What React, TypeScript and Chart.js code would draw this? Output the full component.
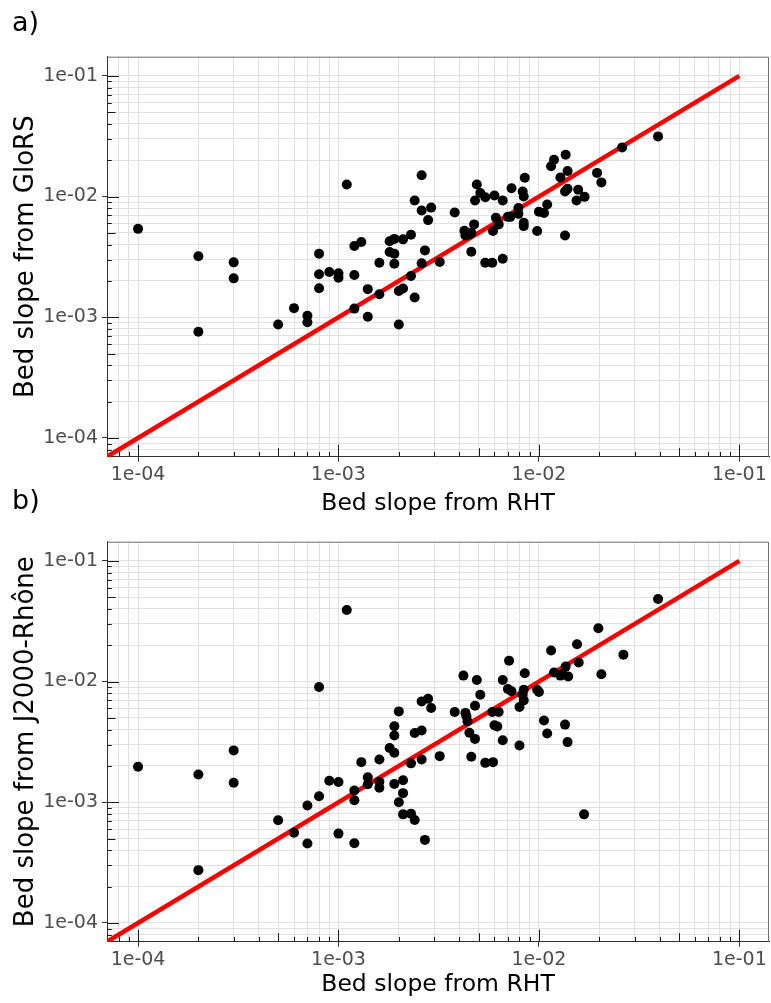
import { useEffect, useRef } from 'react';
import { Chart, registerables } from 'chart.js';

Chart.register(...registerables);

// ---------- data ----------
const rhtA = [
  1e-4, 2e-4, 2e-4, 3e-4, 3e-4, 5e-4, 6e-4, 7e-4, 7e-4, 8e-4,
  8e-4, 8e-4, 9e-4, 1e-3, 1e-3, 1.1e-3, 1.2e-3, 1.3e-3, 1.2e-3, 1.2e-3,
  1.4e-3, 1.4e-3, 1.6e-3, 1.6e-3, 1.8e-3, 1.9e-3, 2.1e-3, 1.8e-3, 1.9e-3, 1.9e-3,
  2.3e-3, 2.4e-3, 2.6e-3, 2.9e-3, 2.8e-3, 2.7e-3, 2.6e-3, 2.3e-3, 2.0e-3, 2.1e-3,
  2.4e-3, 2.0e-3, 2.6e-3, 3.2e-3, 3.8e-3, 4.25e-3, 4.3e-3, 4.5e-3, 4.6e-3, 4.75e-3,
  4.6e-3, 4.9e-3, 4.8e-3, 5.1e-3, 5.4e-3, 6.0e-3, 6.6e-3, 7.3e-3, 8.5e-3, 8.3e-3,
  8.4e-3, 6.1e-3, 6.3e-3, 5.9e-3, 7.0e-3, 7.2e-3, 7.9e-3, 7.9e-3, 8.4e-3, 8.4e-3,
  5.4e-3, 5.85e-3, 6.6e-3, 9.8e-3, 1.0e-2, 1.06e-2, 1.1e-2, 1.15e-2, 1.19e-2, 1.36e-2,
  1.28e-2, 1.39e-2, 1.35e-2, 1.39e-2, 1.35e-2, 1.57e-2, 1.54e-2, 1.69e-2, 1.95e-2, 2.05e-2,
  2.6e-2, 3.93e-2,
];
const glorsA = [
  5.4e-3, 3.2e-3, 7.6e-4, 2.85e-3, 2.1e-3, 8.7e-4, 1.19e-3, 1.03e-3, 9.1e-4, 3.36e-3,
  2.27e-3, 1.74e-3, 2.37e-3, 2.31e-3, 2.13e-3, 1.26e-2, 3.89e-3, 4.2e-3, 2.24e-3, 1.18e-3,
  1.71e-3, 1.01e-3, 2.83e-3, 1.55e-3, 4.27e-3, 4.46e-3, 4.42e-3, 3.47e-3, 3.36e-3, 2.78e-3,
  4.82e-3, 9.27e-3, 7.66e-3, 8.1e-3, 6.38e-3, 3.58e-3, 2.8e-3, 2.2e-3, 1.65e-3, 1.73e-3,
  1.46e-3, 8.7e-4, 1.5e-2, 2.87e-3, 7.38e-3, 5.2e-3, 4.75e-3, 4.86e-3, 5.0e-3, 5.88e-3,
  3.49e-3, 1.26e-2, 9.27e-3, 1.07e-2, 9.88e-3, 1.02e-2, 9.27e-3, 1.17e-2, 1.43e-2, 1.1e-2,
  1.0e-2, 6.67e-3, 5.88e-3, 5.18e-3, 6.79e-3, 6.79e-3, 8.05e-3, 7.19e-3, 6.07e-3, 5.69e-3,
  2.83e-3, 2.83e-3, 3.05e-3, 5.18e-3, 7.47e-3, 7.32e-3, 8.59e-3, 1.78e-2, 2.02e-2, 2.22e-2,
  1.44e-2, 1.63e-2, 1.1e-2, 1.16e-2, 4.76e-3, 1.14e-2, 9.27e-3, 9.94e-3, 1.57e-2, 1.31e-2,
  2.55e-2, 3.15e-2,
];

const rhtB = [
  1e-4, 2e-4, 2e-4, 3e-4, 3e-4, 5e-4, 6e-4, 7e-4, 7e-4, 8e-4,
  8e-4, 9e-4, 1e-3, 1e-3, 1.1e-3, 1.2e-3, 1.2e-3, 1.2e-3, 1.3e-3, 1.4e-3,
  1.4e-3, 1.6e-3, 1.6e-3, 1.6e-3, 1.8e-3, 1.9e-3, 1.9e-3, 1.9e-3, 1.9e-3, 2.0e-3,
  2.1e-3, 2.1e-3, 2.0e-3, 2.1e-3, 2.3e-3, 2.4e-3, 2.7e-3, 2.3e-3, 2.4e-3, 2.6e-3,
  2.6e-3, 2.6e-3, 2.8e-3, 2.9e-3, 3.2e-3, 3.8e-3, 4.2e-3, 4.3e-3, 4.35e-3, 4.4e-3,
  4.5e-3, 4.8e-3, 4.6e-3, 4.8e-3, 4.9e-3, 5.1e-3, 5.4e-3, 5.9e-3, 5.85e-3, 6.3e-3,
  6.0e-3, 6.2e-3, 6.6e-3, 6.6e-3, 7.1e-3, 7.0e-3, 7.3e-3, 8.5e-3, 8.4e-3, 8.3e-3,
  8.4e-3, 8.0e-3, 8.0e-3, 9.8e-3, 1.0e-2, 1.06e-2, 1.1e-2, 1.15e-2, 1.19e-2, 1.28e-2,
  1.36e-2, 1.4e-2, 1.31e-2, 1.35e-2, 1.39e-2, 1.55e-2, 1.58e-2, 1.68e-2, 1.98e-2, 2.05e-2,
  2.64e-2, 3.93e-2,
];
const j2000B = [
  1.97e-3, 1.7e-3, 2.74e-4, 2.69e-3, 1.45e-3, 7.1e-4, 5.6e-4, 9.4e-4, 4.55e-4, 1.12e-3,
  9.0e-3, 1.51e-3, 1.47e-3, 5.5e-4, 3.92e-2, 1.25e-3, 1.04e-3, 4.57e-4, 2.15e-3, 1.61e-3,
  1.41e-3, 2.26e-3, 1.48e-3, 1.32e-3, 2.82e-3, 2.57e-3, 4.26e-3, 3.57e-3, 1.42e-3, 5.66e-3,
  1.52e-3, 1.19e-3, 1.0e-3, 7.94e-4, 8.05e-4, 7.13e-4, 4.88e-4, 2.1e-3, 3.75e-3, 3.93e-3,
  2.26e-3, 6.85e-3, 7.21e-3, 6.04e-3, 2.41e-3, 5.6e-3, 1.12e-2, 5.5e-3, 5.15e-3, 4.69e-3,
  3.76e-3, 3.35e-3, 2.38e-3, 6.31e-3, 1.03e-2, 7.78e-3, 2.12e-3, 2.15e-3, 5.6e-3, 5.6e-3,
  4.35e-3, 4.25e-3, 3.26e-3, 1.03e-2, 1.49e-2, 8.66e-3, 8.3e-3, 1.17e-2, 8.55e-3, 7.78e-3,
  6.98e-3, 6.15e-3, 2.95e-3, 8.55e-3, 8.18e-3, 4.76e-3, 3.71e-3, 1.81e-2, 1.19e-2, 1.12e-2,
  1.33e-2, 1.1e-2, 1.16e-2, 4.4e-3, 3.15e-3, 2.04e-2, 1.44e-2, 7.94e-4, 2.76e-2, 1.15e-2,
  1.67e-2, 4.83e-2,
];

const lineX = [7.0e-5, 0.1];
const majorTicks = [1e-4, 1e-3, 1e-2, 1e-1];
const tickLabels = ['1e-04', '1e-03', '1e-02', '1e-01'];
const mantissas = [1, 2, 3, 4, 5, 6, 7, 8, 9];
const decades = [-5, -4, -3, -2, -1];

const X_MIN = 7.11e-5;
const X_MAX = 0.1406;
const Y_MIN = 7.17e-5;
const Y_MAX = 0.144;

const FONT = "'DejaVu Sans', Verdana, sans-serif";

function allTicks(min: number, max: number) {
  const out: { value: number; m: number }[] = [];
  decades.forEach((e) => {
    mantissas.forEach((m) => {
      const v = m * Math.pow(10, e);
      if (v >= min * 0.999999 && v <= max * 1.000001) out.push({ value: v, m });
    });
  });
  return out;
}

function majorIndex(v: number) {
  return majorTicks.findIndex((t) => Math.abs(v / t - 1) < 1e-6);
}

const framePlugin = {
  id: 'frame',
  afterDraw(chart: any, _args: any, opts: any) {
    const { ctx, chartArea } = chart;
    const { left, right, top, bottom } = chartArea;
    ctx.save();
    // top & right border
    ctx.strokeStyle = '#6b6b6b';
    ctx.lineWidth = 1;
    ctx.beginPath();
    ctx.moveTo(left, top + 0.5);
    ctx.lineTo(right - 0.5, top + 0.5);
    ctx.lineTo(right - 0.5, bottom);
    ctx.stroke();
    // inner log ticks
    ctx.strokeStyle = '#1a1a1a';
    ctx.lineWidth = 1;
    const len = (m: number) => (m === 1 ? 12 : m === 5 ? 8.5 : 4.8);
    const xs = chart.scales.x;
    const ys = chart.scales.y;
    ctx.beginPath();
    allTicks(X_MIN, X_MAX).forEach((t) => {
      const px = Math.round(xs.getPixelForValue(t.value)) + 0.5;
      ctx.moveTo(px, bottom);
      ctx.lineTo(px, bottom - len(t.m));
    });
    allTicks(Y_MIN, Y_MAX).forEach((t) => {
      const py = Math.round(ys.getPixelForValue(t.value)) + 0.5;
      ctx.moveTo(left, py);
      ctx.lineTo(left + len(t.m), py);
    });
    ctx.stroke();
    // panel label
    if (opts && opts.label) {
      ctx.fillStyle = '#000';
      ctx.font = `27px ${FONT}`;
      ctx.textBaseline = 'alphabetic';
      ctx.textAlign = 'left';
      ctx.fillText(opts.label, opts.lx, opts.ly);
    }
    ctx.restore();
  },
};

function makeConfig(p: {
  xs: number[];
  ys: number[];
  yTitle: string;
  padTop: number;
  xAxisHeight: number;
  label: string;
  labelY: number;
}) {
  const pts = p.xs.map((x, i) => ({ x, y: p.ys[i] }));
  const line = lineX.map((v) => ({ x: v, y: v }));
  const tickColor = (c: any) =>
    c.tick && majorIndex(c.tick.value) >= 0 ? '#333333' : 'rgba(0,0,0,0)';
  const cb = (value: any) => {
    const i = majorIndex(Number(value));
    return i >= 0 ? tickLabels[i] : '';
  };
  return {
    type: 'scatter' as const,
    data: {
      datasets: [
        {
          data: pts,
          backgroundColor: '#000000',
          borderWidth: 0,
          pointRadius: 5,
          pointHoverRadius: 5,
          order: 0,
        },
        {
          data: line,
          showLine: true,
          borderColor: '#ff0000',
          borderWidth: 4.5,
          pointRadius: 0,
          order: 1,
        },
      ],
    },
    options: {
      responsive: false,
      animation: false as const,
      events: [],
      layout: { autoPadding: false, padding: { top: p.padTop, left: 0, right: 2, bottom: 0 } },
      plugins: {
        legend: { display: false },
        tooltip: { enabled: false },
        frame: { label: p.label, lx: 12, ly: p.labelY },
      },
      scales: {
        x: {
          type: 'logarithmic' as const,
          position: 'bottom' as const,
          min: X_MIN,
          max: X_MAX,
          afterBuildTicks: (s: any) => {
            s.ticks = allTicks(X_MIN, X_MAX).map((t) => ({ value: t.value }));
          },
          afterFit: (s: any) => {
            s.height = p.xAxisHeight;
          },
          grid: {
            color: '#e0e0e0',
            lineWidth: 1,
            drawTicks: true,
            tickLength: 5,
            tickColor,
            tickWidth: 1,
          },
          border: { display: true, color: '#333333', width: 1 },
          ticks: {
            autoSkip: false,
            maxRotation: 0,
            minRotation: 0,
            padding: 2,
            color: '#4d4d4d',
            font: { family: FONT, size: 19 },
            callback: cb,
          },
          title: {
            display: true,
            text: 'Bed slope from RHT',
            color: '#000000',
            font: { family: FONT, size: 23.5 },
            padding: { top: 0, bottom: 4.2 },
          },
        },
        y: {
          type: 'logarithmic' as const,
          position: 'left' as const,
          min: Y_MIN,
          max: Y_MAX,
          afterBuildTicks: (s: any) => {
            s.ticks = allTicks(Y_MIN, Y_MAX).map((t) => ({ value: t.value }));
          },
          afterFit: (s: any) => {
            s.width = 107;
          },
          grid: {
            color: '#e0e0e0',
            lineWidth: 1,
            drawTicks: true,
            tickLength: 5,
            tickColor,
            tickWidth: 1,
          },
          border: { display: true, color: '#333333', width: 1 },
          ticks: {
            autoSkip: false,
            padding: 4,
            color: '#4d4d4d',
            font: { family: FONT, size: 19 },
            callback: cb,
          },
          title: {
            display: true,
            text: p.yTitle,
            color: '#000000',
            font: { family: FONT, size: 26 },
            padding: { top: 10.4, bottom: 0 },
          },
        },
      },
    },
    plugins: [framePlugin],
  };
}

function Panel(props: { top: number; height: number; cfg: any }) {
  const ref = useRef<HTMLCanvasElement | null>(null);
  useEffect(() => {
    if (!ref.current) return;
    const chart = new Chart(ref.current, props.cfg);
    return () => chart.destroy();
  }, []);
  return (
    <canvas
      ref={ref}
      width={771}
      height={props.height}
      style={{ position: 'absolute', left: 0, top: props.top, width: 771, height: props.height }}
    />
  );
}

export default function App() {
  const cfgA = makeConfig({
    xs: rhtA,
    ys: glorsA,
    yTitle: 'Bed slope from GloRS',
    padTop: 56.7,
    xAxisHeight: 522 - 456.7,
    label: 'a)',
    labelY: 31,
  });
  const cfgB = makeConfig({
    xs: rhtB,
    ys: j2000B,
    yTitle: 'Bed slope from J2000-Rhône',
    padTop: 71.7,
    xAxisHeight: 533 - 471.7,
    label: 'b)',
    labelY: 509 - 470,
  });
  return (
    <div
      style={{
        position: 'absolute',
        left: 0,
        top: 0,
        width: 771,
        height: 1003,
        background: '#ffffff',
        overflow: 'hidden',
      }}
    >
      <Panel top={0} height={522} cfg={cfgA} />
      <Panel top={470} height={533} cfg={cfgB} />
    </div>
  );
}
